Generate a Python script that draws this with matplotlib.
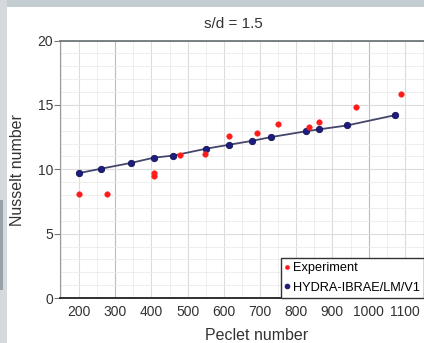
import matplotlib

matplotlib.use("Agg")

import matplotlib.pyplot as plt
from matplotlib.patches import Rectangle
from matplotlib.ticker import MultipleLocator


FIG_W, FIG_H = 424, 343
DPI = 100

# values
EXP_PECLET = [200, 276, 407, 407, 478, 548, 614, 692, 749, 836, 864, 965, 1090]
EXP_NUSSELT = [8.1, 8.05, 9.7, 9.5, 11.1, 11.2, 12.6, 12.8, 13.55, 13.3, 13.7, 14.8, 15.85]

MODEL_PECLET = [200, 262, 345, 407, 460, 552, 614, 677, 731, 827, 864, 940, 1073]
MODEL_NUSSELT = [9.7, 10.05, 10.5, 10.9, 11.06, 11.6, 11.9, 12.2, 12.5, 12.95, 13.1, 13.4, 14.2]

X_TICKS = [200, 300, 400, 500, 600, 700, 800, 900, 1000, 1100]
Y_TICKS = [0, 5, 10, 15, 20]


def px(x_pixel, y_pixel):
    return x_pixel / FIG_W, 1 - y_pixel / FIG_H


def main() -> None:
    plt.rcParams["font.family"] = ["Liberation Sans", "DejaVu Sans"]

    figure = plt.figure(figsize=(FIG_W / DPI, FIG_H / DPI), dpi=DPI, facecolor="white")

    # screenshot frame
    figure.patches.append(Rectangle((0, 1 - 7 / FIG_H), 1, 7 / FIG_H, transform=figure.transFigure,
                                    facecolor="#c3ccd0", edgecolor="none"))
    figure.patches.append(Rectangle((0, 0), 7 / FIG_W, 1, transform=figure.transFigure,
                                    facecolor="#d3d9dc", edgecolor="none"))
    figure.patches.append(Rectangle((0, 1 - 290 / FIG_H), 3 / FIG_W, 90 / FIG_H, transform=figure.transFigure,
                                    facecolor="#98a2a6", edgecolor="none"))

    left, top = px(60, 40.5)
    right, bottom = px(441, 298)
    axis = figure.add_axes([left, bottom, right - left, top - bottom])

    axis.set_xlim(147.5, 1200)
    axis.set_ylim(0, 20)
    axis.set_xticks(X_TICKS)
    axis.set_yticks(Y_TICKS)
    axis.xaxis.set_minor_locator(MultipleLocator(50))
    axis.yaxis.set_minor_locator(MultipleLocator(1))

    axis.grid(True, which="major", color="#dcdcdc", linewidth=0.8)
    axis.grid(True, which="minor", color="#ebebeb", linewidth=0.6)
    for tick_value, grid_line in zip(X_TICKS, axis.get_xgridlines()):
        if tick_value in (300, 1000):
            grid_line.set_color("#bcbcbc")
    axis.set_axisbelow(True)

    axis.plot(MODEL_PECLET, MODEL_NUSSELT, color="#44466a", linewidth=1.3, zorder=2)
    axis.plot(MODEL_PECLET, MODEL_NUSSELT, linestyle="none", marker="o", markersize=4.6,
              markerfacecolor="#1c1c82", markeredgecolor="#141450", markeredgewidth=0.6,
              label="HYDRA-IBRAE/LM/V1", zorder=3)
    axis.plot(EXP_PECLET, EXP_NUSSELT, linestyle="none", marker="o", markersize=4,
              markerfacecolor="#ff1a1a", markeredgecolor="#ff3030", markeredgewidth=0.4,
              label="Experiment", zorder=4)

    axis.spines["right"].set_visible(False)
    axis.spines["top"].set_color("#6e7878")
    axis.spines["top"].set_linewidth(1.3)
    axis.spines["bottom"].set_color("#202020")
    axis.spines["bottom"].set_linewidth(1.3)
    axis.spines["left"].set_color("#9a9a9a")
    axis.spines["left"].set_linewidth(0.8)

    axis.tick_params(axis="x", which="major", length=0, pad=5, labelsize=10, labelcolor="#333333")
    axis.tick_params(axis="y", which="major", length=4, width=0.8, color="#777777",
                     pad=1, labelsize=10, labelcolor="#333333")
    axis.tick_params(which="minor", length=0)

    handles, labels = axis.get_legend_handles_labels()
    legend = figure.legend(
        handles[::-1],
        labels[::-1],
        loc="lower left",
        bbox_to_anchor=px(281, 298),
        bbox_transform=figure.transFigure,
        fontsize=9.2,
        frameon=True,
        fancybox=False,
        framealpha=1,
        edgecolor="#333333",
        handlelength=0.3,
        handletextpad=0.25,
        borderpad=0.35,
        labelspacing=0.55,
        borderaxespad=0,
        markerscale=0.75,
    )
    legend.get_frame().set_linewidth(1.0)
    legend.set_zorder(5)

    figure.text(*px(233, 24), "s/d = 1.5", ha="center", va="center", fontsize=11, color="#333333")
    figure.text(*px(257, 336), "Peclet number", ha="center", va="center", fontsize=11.5, color="#333333")
    figure.text(*px(18, 170), "Nusselt number", ha="center", va="center", rotation=90,
                fontsize=11.5, color="#333333")

    figure.savefig("out.png", dpi=DPI, facecolor=figure.get_facecolor())
    plt.close(figure)


if __name__ == "__main__":
    main()
